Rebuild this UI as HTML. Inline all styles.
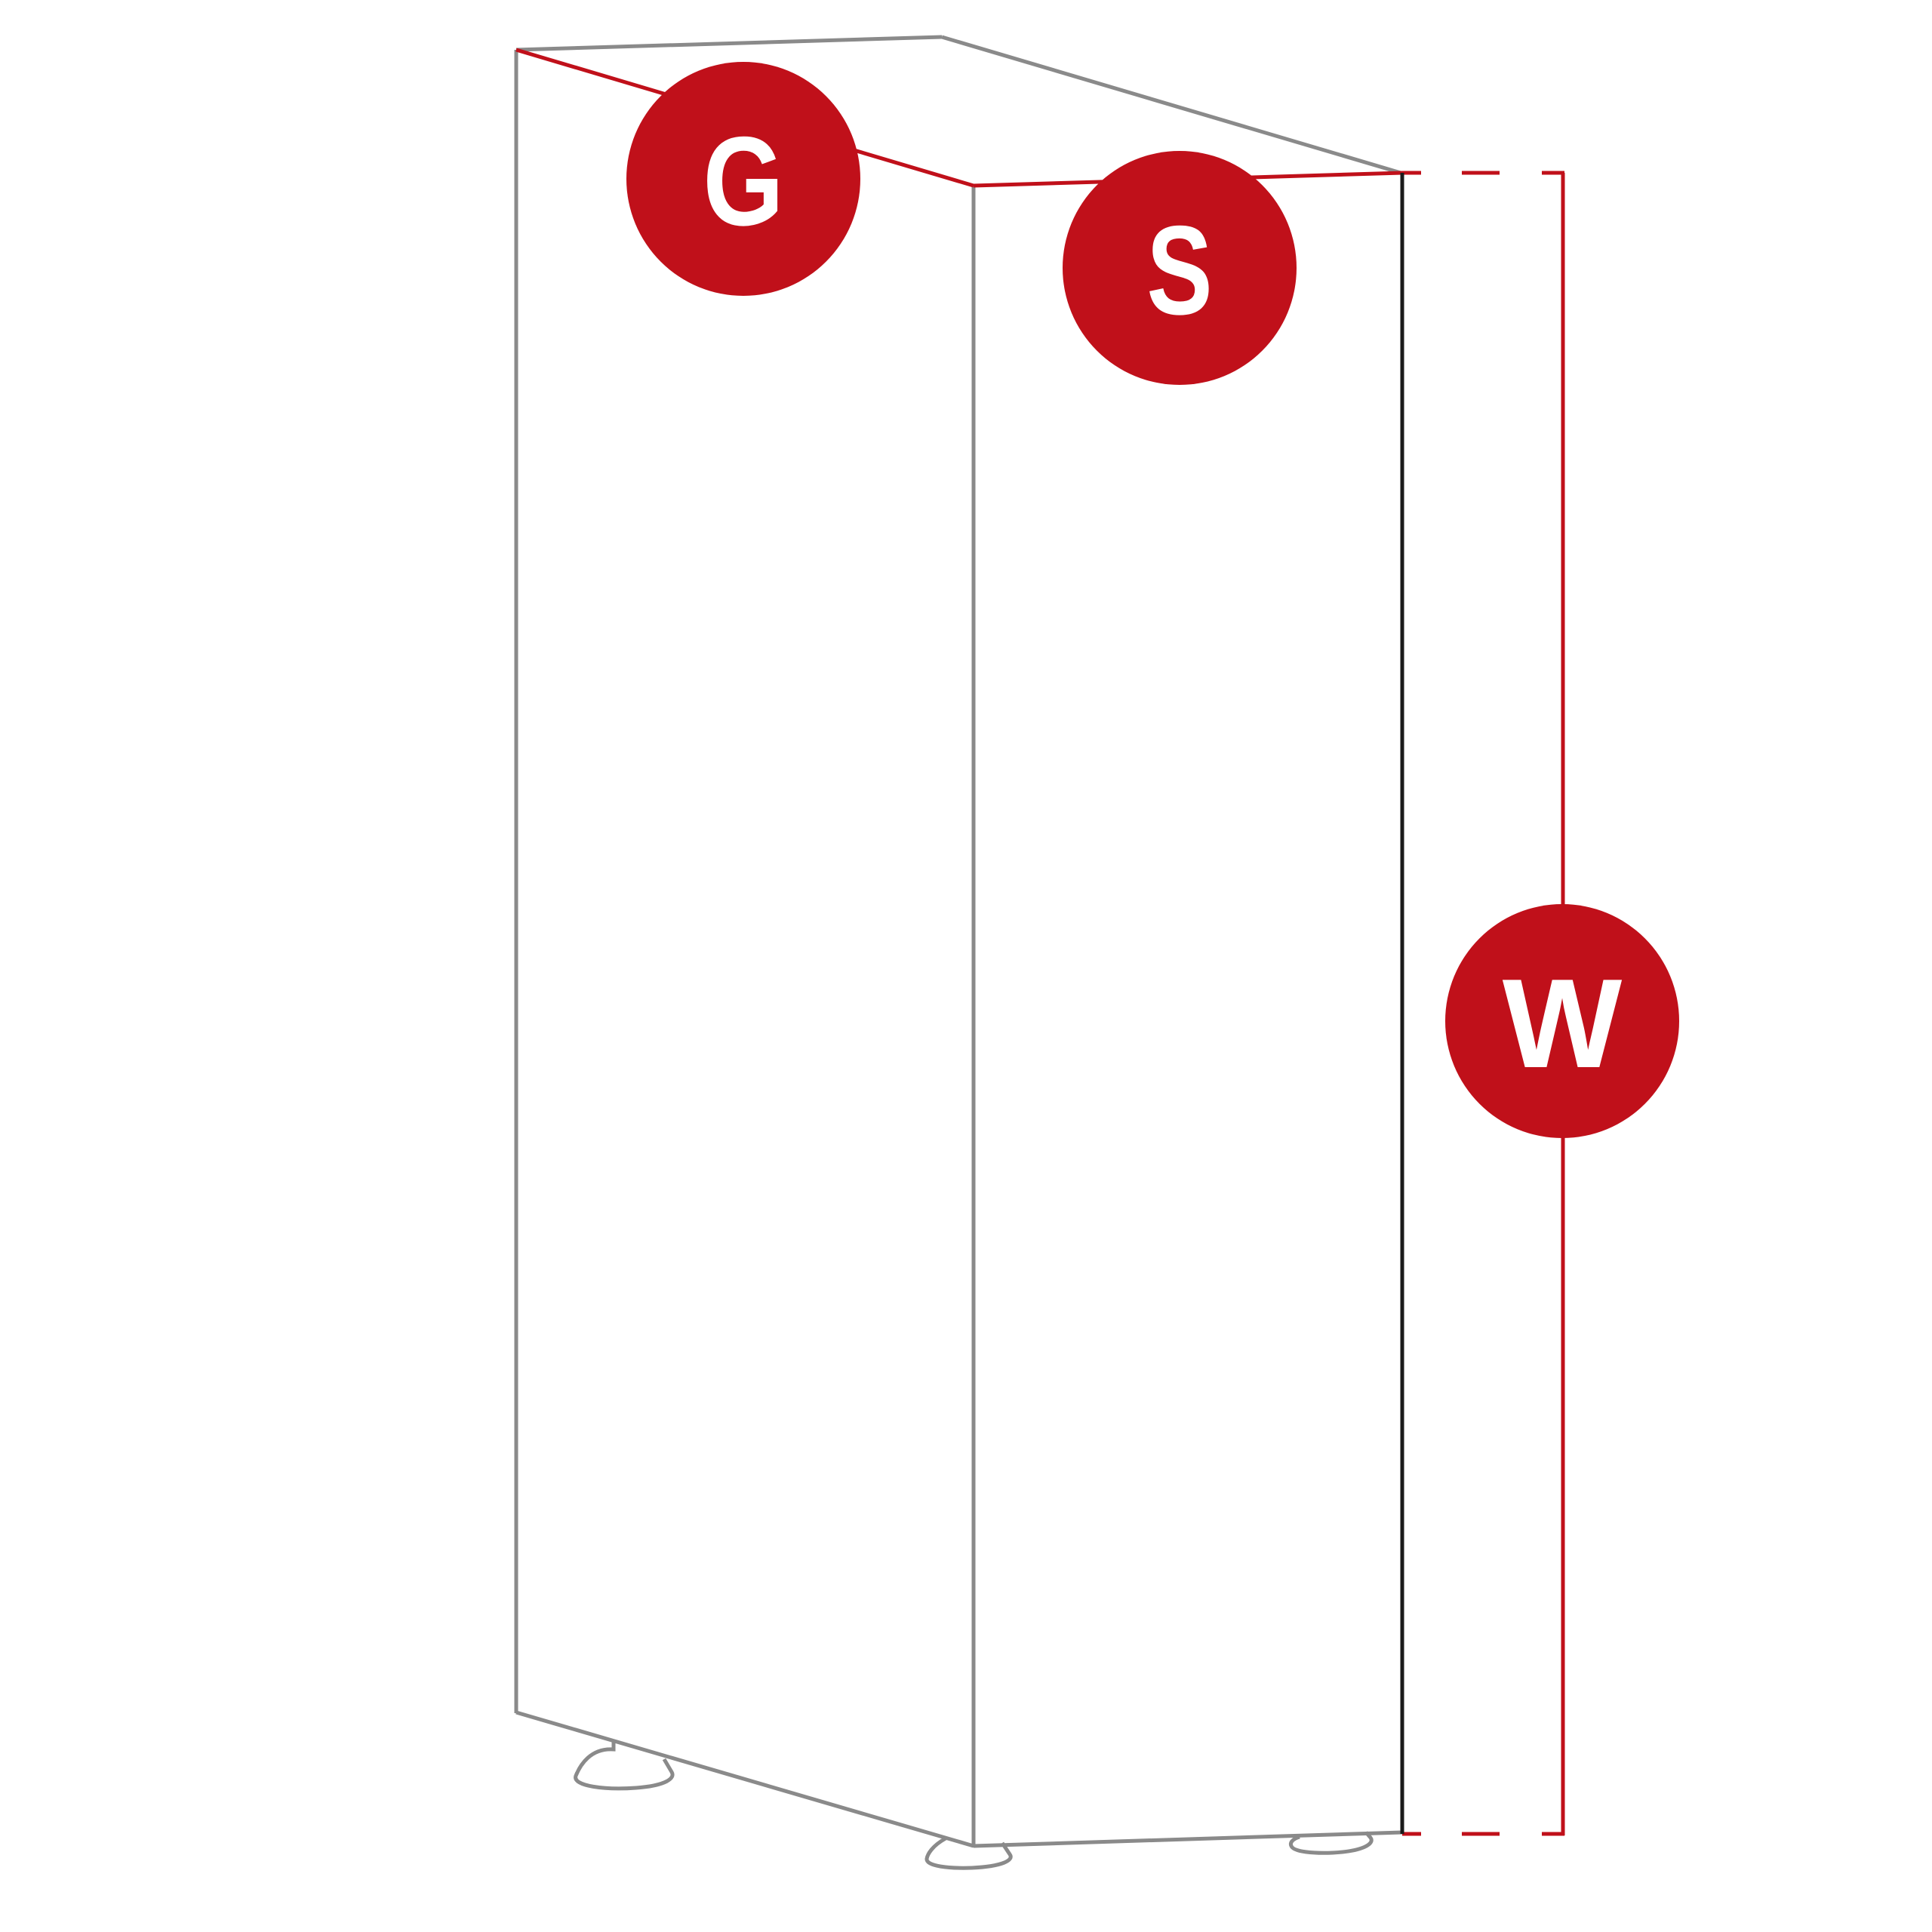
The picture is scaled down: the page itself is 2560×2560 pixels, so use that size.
<!DOCTYPE html>
<html><head><meta charset="utf-8"><style>html,body{margin:0;padding:0;background:#fff}svg{display:block}</style></head><body>
<svg width="2560" height="2560" viewBox="0 0 2560 2560" xmlns="http://www.w3.org/2000/svg">
<g fill="none" stroke-width="5">
<g stroke="#8a8a8a">
<line x1="684" y1="66" x2="1248" y2="49"/>
<line x1="1248" y1="49" x2="1856" y2="229"/>
<line x1="684" y1="66" x2="684" y2="2270"/>
<line x1="1290" y1="246" x2="1290" y2="2448"/>
<line x1="684" y1="2269" x2="1290" y2="2446"/>
<line x1="1290" y1="2446" x2="1858" y2="2428"/>
<path d="M813,2306 v12 c-30,-2 -44,20 -50,35 c-5,14 40,19 80,16 c40,-3 52,-13 47,-21 l-10,-17"/>
<path d="M1253,2436 c-18,10 -24,21 -25,27 c-1,10 30,13 60,12 c40,-2 56,-10 50,-18 l-10,-15"/>
<path d="M1722,2434 c-10,3 -13,8 -11,12 c3,8 30,10 55,9 c40,-2 56,-12 50,-20 l-6,-7"/>
</g>
<g stroke="#c0101a">
<line x1="684" y1="66" x2="1290" y2="246"/>
<line x1="1290" y1="246" x2="1858" y2="229"/>
<line x1="1858" y1="229" x2="1883" y2="229"/>
<line x1="1937" y1="229" x2="1987" y2="229"/>
<line x1="2043" y1="229" x2="2073" y2="229"/>
<line x1="1858" y1="2430" x2="1883" y2="2430"/>
<line x1="1937" y1="2430" x2="1987" y2="2430"/>
<line x1="2043" y1="2430" x2="2073" y2="2430"/>
<line x1="2071" y1="229" x2="2071" y2="2432"/>
</g>
<line x1="1858" y1="229" x2="1858" y2="2430" stroke="#1a1a1a"/>
</g>
<g fill="#c0101a">
<circle cx="985" cy="237" r="155"/>
<circle cx="1563" cy="355" r="155"/>
<circle cx="2070" cy="1353" r="155"/>
</g>
<g fill="#fff" font-family="Liberation Sans, sans-serif" font-weight="bold" font-size="168" text-anchor="middle">
<text x="0" y="298" transform="translate(985 0) scale(0.82 1)">G</text>
<text x="0" y="416" transform="translate(1563 0) scale(0.78 1)">S</text>
<text x="2070" y="1414">W</text>
</g>
</svg>
</body></html>
